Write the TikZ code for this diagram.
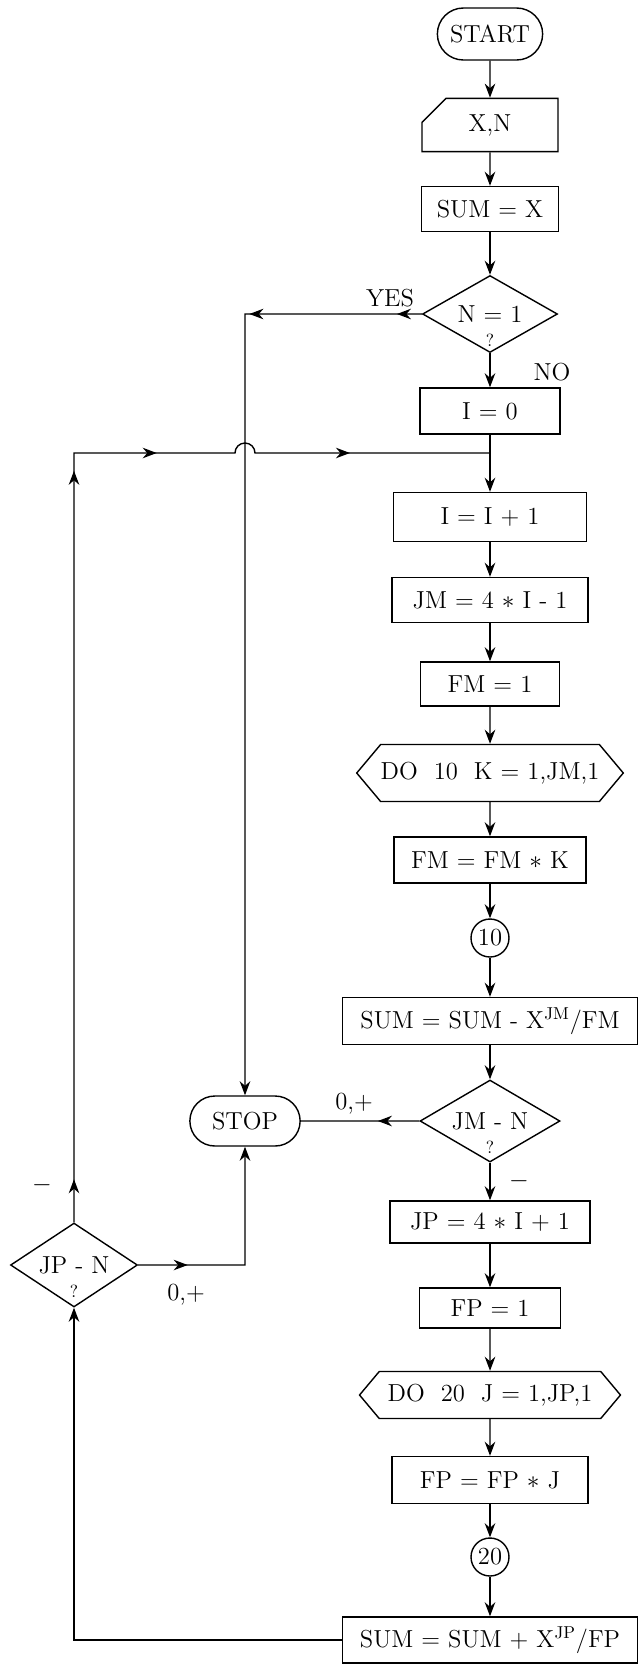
\documentclass[tikz,border=0pt]{standalone}
\usetikzlibrary{arrows.meta,shapes.geometric,shapes.misc,shapes.symbols,decorations.markings}
\begin{document}
\begin{tikzpicture}[>={Stealth[length=8pt,width=6pt]}, x=0.02cm, y=-0.02cm, line width=0.8pt,
  font=\fontsize{14}{16}\selectfont,
  box/.style={draw, rectangle, inner sep=2pt},
  term/.style={draw, rounded rectangle, minimum height=1.0cm},
  test/.style={draw, diamond, aspect=2, inner sep=0pt,
    label={[yshift=-0.52cm, inner sep=0pt, font=\normalsize]center:?}},
  doloop/.style={draw, signal, signal to=west and east, signal pointer angle=100, inner xsep=0pt, inner ysep=2pt},
  conn/.style={draw, circle, minimum size=0.76cm, inner sep=0pt},
  arrs/.style={postaction={decorate, decoration={markings, mark=at position #1 with {\arrow{>}}}}}]
\useasboundingbox (0,0) rectangle (639,1668);

% main column
\node[term, minimum width=2.34cm, minimum height=1.04cm] (start) at (490,34) {START};
\node[draw, chamfered rectangle, chamfered rectangle corners=north west,
  chamfered rectangle xsep=0.28cm, chamfered rectangle ysep=0.2cm,
  minimum width=2.72cm, minimum height=0.92cm] (rd) at (490,125) {X,N};
\node[box, minimum width=2.74cm, minimum height=0.9cm] (sx) at (490,209) {SUM = X};
\node[test, minimum width=2.7cm, minimum height=1.54cm] (q1) at (490,314) {N = 1};
\node[box, minimum width=2.8cm, minimum height=0.92cm] (i0) at (490,411) {I = 0};
\node[box, minimum width=3.86cm, minimum height=0.98cm] (inc) at (490,517) {I = I + 1};
\node[box, minimum width=3.92cm, minimum height=0.9cm] (jm) at (490,600) {JM = 4 $\ast$ I - 1};
\node[box, minimum width=2.78cm, minimum height=0.88cm] (fm) at (490,684) {FM = 1};
\node[doloop, minimum width=5.16cm, minimum height=1.14cm] (do1) at (490,773) {DO\ \ 10\ \ K = 1,JM,1};
\node[box, minimum width=3.84cm, minimum height=0.92cm] (fmk) at (490,860) {FM = FM $\ast$ K};
\node[conn] (c1) at (490,938) {10};
\node[box, minimum width=5.9cm, minimum height=0.94cm] (sm) at (490,1021) {SUM = SUM - X\textsuperscript{JM}/FM};
\node[test, minimum width=2.8cm, minimum height=1.64cm] (q2) at (490,1121) {JM - N};
\node[box, minimum width=4.0cm, minimum height=0.84cm] (jp) at (490,1222) {JP = 4 $\ast$ I + 1};
\node[box, minimum width=2.82cm, minimum height=0.8cm] (fp) at (490,1308) {FP = 1};
\node[doloop, minimum width=5.22cm, minimum height=0.94cm] (do2) at (490,1395) {DO\ \ 20\ \ J = 1,JP,1};
\node[box, minimum width=3.92cm, minimum height=0.94cm] (fpj) at (490,1480) {FP = FP $\ast$ J};
\node[conn] (c2) at (490,1557) {20};
\node[box, minimum width=5.9cm, minimum height=0.92cm] (sp) at (490,1640) {SUM = SUM + X\textsuperscript{JP}/FP};

% left side
\node[term, minimum width=2.44cm] (stop) at (245,1121) {STOP};
\node[test, minimum width=2.54cm, minimum height=1.68cm] (q3) at (74,1265) {JP - N};

\coordinate (m) at (490,453);
\coordinate (ll) at (74,453);
\coordinate (jl) at (235,453);

% labels
\node (yes) at (390,298) {YES};
\node (no) at (552,372) {NO};
\node (neg1) at (42,1185) {$-$};
\node (pos2) at (186,1295) {0,+};

% connectors
\draw[->] (start) -- (rd);
\draw[->] (rd) -- (sx);
\draw[->] (sx) -- (q1);
\draw[->] (q1) -- (i0);
\draw[arrs=0.026, arrs=0.18, ->] (q1.west) -- (q1.west -| stop) -- (stop);
\draw (i0) -- (m);
\draw[->] (m) -- (inc);
\draw[->] (inc) -- (jm);
\draw[->] (jm) -- (fm);
\draw[->] (fm) -- (do1);
\draw[->] (do1) -- (fmk);
\draw[->] (fmk) -- (c1);
\draw[->] (c1) -- (sm);
\draw[->] (sm) -- (q2);
\draw[arrs=0.35] (q2) -- node[above, pos=0.55] (pos1) {0,+} (stop);
\draw[->] (q2) -- node[right=0.25cm, pos=0.5] (neg2) {$-$} (jp);
\draw[->] (jp) -- (fp);
\draw[->] (fp) -- (do2);
\draw[->] (do2) -- (fpj);
\draw[->] (fpj) -- (c2);
\draw[->] (c2) -- (sp);
\draw[arrs=0.22, ->] (q3.east) -- (q3.east -| stop) -- (stop);
\draw[->] (sp) -- (sp -| q3) -- (q3);
\draw[arrs=0.036, arrs=0.628, arrs=0.712, arrs=0.883] (q3.north) -- (ll) -- (jl)
  arc[start angle=180, end angle=0, radius=0.2cm] -- (m);
\end{tikzpicture}
\end{document}
